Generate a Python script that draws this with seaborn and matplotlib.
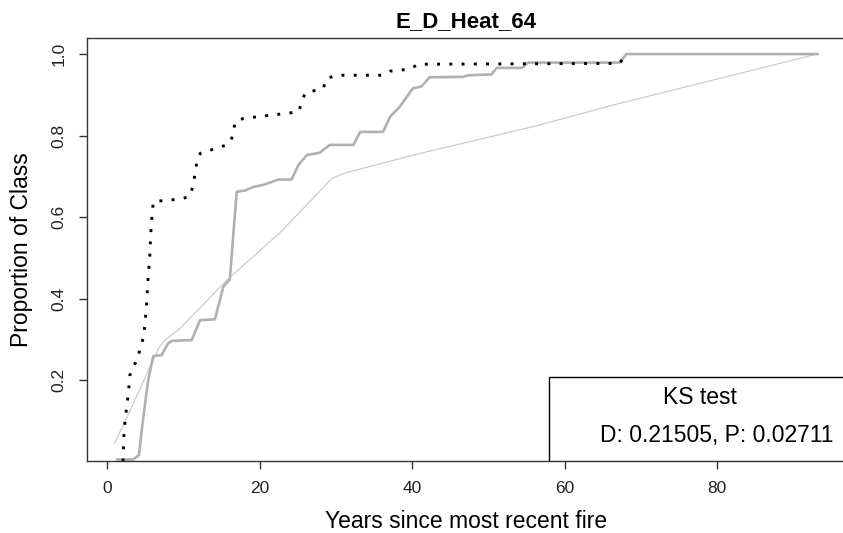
import matplotlib
matplotlib.use("Agg")
import matplotlib.pyplot as plt
from matplotlib.patches import Rectangle
import seaborn as sns
import pandas as pd

# ---- data ----
title = "E_D_Heat_64"
xlabel = "Years since most recent fire"
ylabel = "Proportion of Class"
legend_title = "KS test"
legend_text = "D: 0.21505, P: 0.02711"

x_ticks = [0, 20, 40, 60, 80]
y_ticks = [0.2, 0.4, 0.6, 0.8, 1.0]
y_tick_labels = ["0.2", "0.4", "0.6", "0.8", "1.0"]

# thin light-grey reference curve
ref_x = [1.0, 2.6, 4.8, 6.8, 7.6, 9.6, 15.7, 22.7, 26.6, 29.5, 31.0, 41.0, 55.9, 66.8, 77.7, 93.1]
ref_y = [0.045, 0.108, 0.198, 0.280, 0.298, 0.327, 0.445, 0.562, 0.638, 0.695, 0.707, 0.756, 0.822, 0.877, 0.928, 1.0]

# thick grey curve
grey_x = [1.3, 3.45, 4.2, 4.55, 5.0, 5.4, 6.07, 7.16, 8.0, 8.5, 11.1, 12.2, 14.15, 15.25, 16.1, 17.0,
          18.1, 19.2, 20.5, 22.45, 24.2, 25.1, 26.2, 27.9, 29.2, 32.3, 33.2, 36.2, 37.1, 38.4, 40.1,
          41.2, 42.3, 46.7, 47.4, 50.4, 51.1, 54.4, 55.2, 67.2, 68.1, 93.2]
grey_y = [0.005, 0.005, 0.016, 0.077, 0.143, 0.200, 0.259, 0.261, 0.290, 0.296, 0.298, 0.347, 0.349, 0.429,
          0.447, 0.662, 0.665, 0.674, 0.679, 0.692, 0.692, 0.728, 0.752, 0.758, 0.777, 0.777, 0.809, 0.809,
          0.846, 0.871, 0.916, 0.920, 0.943, 0.944, 0.948, 0.950, 0.966, 0.966, 0.979, 0.979, 1.0, 1.0]

# dotted black curve
dot_x = [2.1, 2.2, 2.36, 2.8, 3.0, 3.45, 4.1, 4.3, 4.76, 5.0, 5.2, 5.4, 5.6, 5.7, 5.85, 6.07, 9.57, 10.8,
         11.1, 11.4, 11.75, 12.2, 15.7, 16.3, 16.6, 16.8, 17.9, 25.1, 25.5, 25.95, 28.35, 28.8, 30.1,
         36.0, 37.1, 39.7, 40.8, 67.2, 68.1]
dot_y = [0.0, 0.06, 0.10, 0.167, 0.212, 0.233, 0.254, 0.278, 0.303, 0.343, 0.389, 0.457, 0.50, 0.548,
         0.593, 0.638, 0.644, 0.650, 0.666, 0.690, 0.732, 0.756, 0.777, 0.789, 0.813, 0.834, 0.842, 0.858,
         0.879, 0.904, 0.916, 0.940, 0.948, 0.948, 0.958, 0.963, 0.975, 0.977, 1.0]

# ---- style ----
sns.set_theme(style="white")
plt.rcParams['font.family'] = ['Liberation Sans', 'DejaVu Sans']
plt.rcParams['text.color'] = 'black'

fig = plt.figure(figsize=(8.43, 5.33), dpi=100)
ax = fig.add_axes([86.5 / 843, 1 - 460.85 / 533, (846 - 86.5) / 843, (460.85 - 38.4) / 533])

df_ref = pd.DataFrame({"x": ref_x, "y": ref_y})
df_grey = pd.DataFrame({"x": grey_x, "y": grey_y})
df_dot = pd.DataFrame({"x": dot_x, "y": dot_y})

sns.lineplot(data=df_ref, x="x", y="y", ax=ax, sort=False, estimator=None,
             color="#cccccc", linewidth=0.9)
sns.lineplot(data=df_grey, x="x", y="y", ax=ax, sort=False, estimator=None,
             color="#b0b0b0", linewidth=1.9)
sns.lineplot(data=df_dot, x="x", y="y", ax=ax, sort=False, estimator=None,
             color="black", linewidth=2.1, linestyle=(0, (1, 3.2)), dash_capstyle="butt")

ax.set_xlim(-2.69, 96.89)
ax.set_ylim(0.0016, 1.0384)

ax.set_xticks(x_ticks)
ax.set_xticklabels([str(t) for t in x_ticks])
ax.set_yticks(y_ticks)
ax.set_yticklabels(y_tick_labels, rotation=90, va="center")

tick_family = ['Liberation Sans Narrow', 'Liberation Sans', 'DejaVu Sans']
for lab in ax.get_xticklabels() + ax.get_yticklabels():
    lab.set_fontfamily(tick_family)
    lab.set_fontsize(12.5)
    lab.set_color("#222222")

ax.tick_params(axis="both", which="major", length=5.5, width=1.0, color="#333333",
               direction="out", bottom=True, left=True, pad=9)

for side in ["top", "bottom", "left", "right"]:
    ax.spines[side].set_color("#333333")
    ax.spines[side].set_linewidth(1.0)

ax.set_xlabel(xlabel, fontsize=16.5, color="black")
ax.set_ylabel(ylabel, fontsize=16.5, color="black")
ax.xaxis.set_label_coords(0.5, (460.85 - 521) / 422.45)
ax.xaxis.label.set_va("center")
ax.yaxis.set_label_coords((22 - 86.5) / 759.5, 0.5)
ax.yaxis.label.set_va("center")

ax.text(0.5, 1 + (38.4 - 22) / 422.45, title, transform=ax.transAxes,
        ha="center", va="center", fontsize=16, fontweight="bold", color="black")

# legend box (bottom right)
rect = Rectangle((57.9, 0.0016), 45, 0.205, facecolor="white", edgecolor="black",
                 linewidth=1.0, zorder=5)
ax.add_patch(rect)
ax.text(77.7, 0.158, legend_title, ha="center", va="center", fontsize=16.5, zorder=6, color="black")
ax.text(95.3, 0.065, legend_text, ha="right", va="center", fontsize=16.5, zorder=6, color="black")

fig.savefig("out.png", dpi=100)
